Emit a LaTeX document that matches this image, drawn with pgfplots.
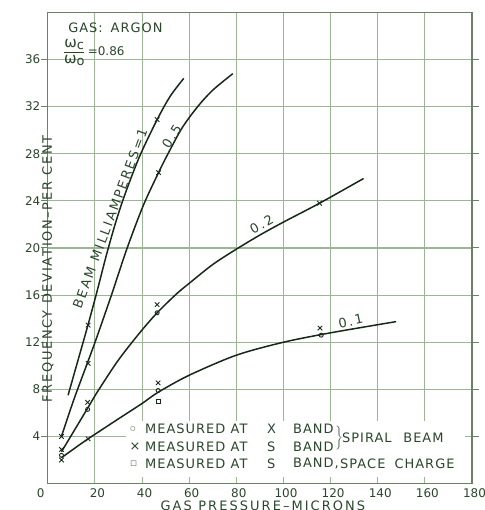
\documentclass[border=0pt]{standalone}
\usepackage{fontspec}
\setmainfont{DejaVu Sans}
\newfontfamily\lbl[LetterSpace=16]{DejaVu Sans}
\newfontfamily\lbly[LetterSpace=13]{DejaVu Sans}
\newfontfamily\lgd[LetterSpace=8]{DejaVu Sans}
\usepackage{pgfplots}
\pgfplotsset{compat=1.18}
\definecolor{txt}{RGB}{42,70,42}
\definecolor{gridc}{RGB}{155,181,149}
\definecolor{framec}{RGB}{105,130,100}
\definecolor{crv}{RGB}{22,40,22}
\begin{document}
\begin{tikzpicture}
\begin{axis}[name=ax, scale only axis, width=424.2bp, height=471.2bp,
  xmin=0, xmax=180, ymin=0, ymax=40,
  xtick={0,20,...,180}, ytick={4,8,...,36},
  xticklabels={0\hspace*{19bp},20,40,60,80,100,120,140,160,180},
  grid=major, major grid style={gridc, line width=1.1bp},
  axis line style={framec, line width=1.3bp},
  tick align=outside, major tick length=7bp,
  xtick style={draw=none}, ytick style={framec, line width=1bp},
  tick label style={font=\fontsize{12}{14}\selectfont, text=txt},
  xticklabel style={yshift=5bp, xshift=2.5bp},
  yticklabel style={xshift=3bp},
  /pgf/number format/assume math mode=true,
  /pgf/number format/1000 sep={},
  xlabel={\lbl GAS\hspace{0.5em}PRESSURE–MICRONS},
  ylabel={\lbly FREQUENCY\hspace{0.5em}DEVIATION–PER\hspace{0.5em}CENT},
  xlabel style={at={(rel axis cs:0.507,0)}, anchor=center, yshift=-22bp, font=\fontsize{13}{14}\selectfont, text=txt},
  ylabel style={at={(rel axis cs:0,0.515)}, anchor=center, xshift=-28bp, font=\fontsize{13}{14}\selectfont, text=txt},
  every axis plot/.append style={crv, line width=1.5bp},
]
% beam current = 1 mA
\addplot[smooth, no marks] coordinates {(8.6,7.5) (13,10.6) (17.1,13.5) (21,16.4) (25,19.5) (29,22.3) (33,24.7) (39,27.8) (46.4,30.9) (52,32.9) (57.7,34.4)};
% 0.5 mA
\addplot[smooth, no marks] coordinates {(5.8,4.0) (11,7.1) (17.1,10.4) (20.4,12.2) (27,16) (33.5,19.9) (40.5,23.6) (47,26.4) (51,28) (57,30.2) (63.6,32) (70,33.4) (78.5,34.8)};
% 0.2 mA
\addplot[smooth, no marks] coordinates {(5.8,2.7) (10,4.1) (16.9,6.4) (21.4,7.9) (30,10.5) (39,12.8) (46.4,14.5) (54.6,16.1) (60,17.0) (70,18.6) (80,19.9) (90,21.1) (100,22.2) (115.3,23.8) (134,25.9)};
% 0.1 mA
\addplot[smooth, no marks] coordinates {(5.8,2.2) (10,2.8) (17.1,3.8) (30,5.5) (40,6.8) (46.8,7.75) (60,9.2) (80,10.9) (100,12.0) (120,12.8) (147.8,13.75)};
% measured at X band (circles)
\addplot[only marks, mark=o, mark size=2bp, line width=0.9bp] coordinates {(5.8,2.4) (16.9,6.3) (46.4,14.5) (46.8,7.9) (116,12.6)};
% measured at S band (crosses)
\addplot[only marks, mark=x, mark size=3.2bp, line width=0.9bp] coordinates {(5.8,4.0) (5.8,2.9) (5.8,2.0) (17.1,13.45) (17.1,10.2) (16.9,6.9) (17.1,3.8) (46.4,15.2) (46.8,8.55) (115.5,13.2) (46.4,30.9) (47,26.4) (115.3,23.8)};
% measured at S band, space charge (squares)
\addplot[only marks, mark=square, mark size=2bp, line width=0.9bp] coordinates {(46.8,7.0)};
% legend box
\fill[white] (axis cs:33,0.6) rectangle (axis cs:177,5.3);
\begin{scope}[every node/.style={font=\fontsize{13}{14}\selectfont\lgd, text=txt, inner sep=0pt, anchor=west}]
\node at (axis cs:35.0,4.63) {\fontsize{6}{7}\selectfont ○};
\node at (axis cs:34.6,3.13) {×};
\node at (axis cs:35.0,1.72) {\fontsize{7}{8}\selectfont □};
\node at (axis cs:41.2,4.63) {MEASURED\hspace{0.4em}AT};
\node at (axis cs:41.2,3.13) {MEASURED\hspace{0.4em}AT};
\node at (axis cs:41.2,1.72) {MEASURED\hspace{0.4em}AT};
\node at (axis cs:93,4.63) {X};
\node at (axis cs:93,3.13) {S};
\node at (axis cs:93,1.72) {S};
\node at (axis cs:104,4.63) {BAND};
\node at (axis cs:104,3.13) {BAND};
\node at (axis cs:104,1.72) {BAND,};
\node at (axis cs:121.4,3.88) {\(\left.\rule{0pt}{15bp}\right\}\)};
\node at (axis cs:124.8,3.88) {SPIRAL\hspace{0.9em}BEAM};
\node at (axis cs:124.0,1.72) {SPACE\hspace{0.7em}CHARGE};
\end{scope}
% annotations
\begin{scope}[every node/.style={font=\fontsize{13}{14}\selectfont, text=txt}]
\node[anchor=west, inner sep=0pt] at (axis cs:8.6,38.7) {\lgd GAS:\hspace{0.6em}ARGON};
\node[anchor=west, inner sep=0pt] at (axis cs:6.3,36.6) {\(\displaystyle\frac{\mbox{\fontsize{15}{15}\selectfont ω\raisebox{-1.5bp}{\fontsize{13}{13}\selectfont c}}}{\mbox{\fontsize{15}{15}\selectfont ω\raisebox{-1.5bp}{\fontsize{13}{13}\selectfont o}}}\)\,\fontsize{12}{14}\selectfont =0.86};
\node[rotate=69.6] at (axis cs:26.4,22.5) {\lbl BEAM\hspace{0.5em}MILLIAMPERES=1};
\node[rotate=58] at (axis cs:52.6,29.5) {\lbl 0.5};
\node[rotate=29] at (axis cs:90.7,22.0) {\lbl 0.2};
\node[rotate=12] at (axis cs:128.5,13.8) {\lbl 0.1};
\end{scope}
\end{axis}
\pgfresetboundingbox
\useasboundingbox ([shift={(-47.8bp,-26.4bp)}]ax.south west) rectangle ([shift={(12bp,12.4bp)}]ax.north east);
\end{tikzpicture}
\end{document}
